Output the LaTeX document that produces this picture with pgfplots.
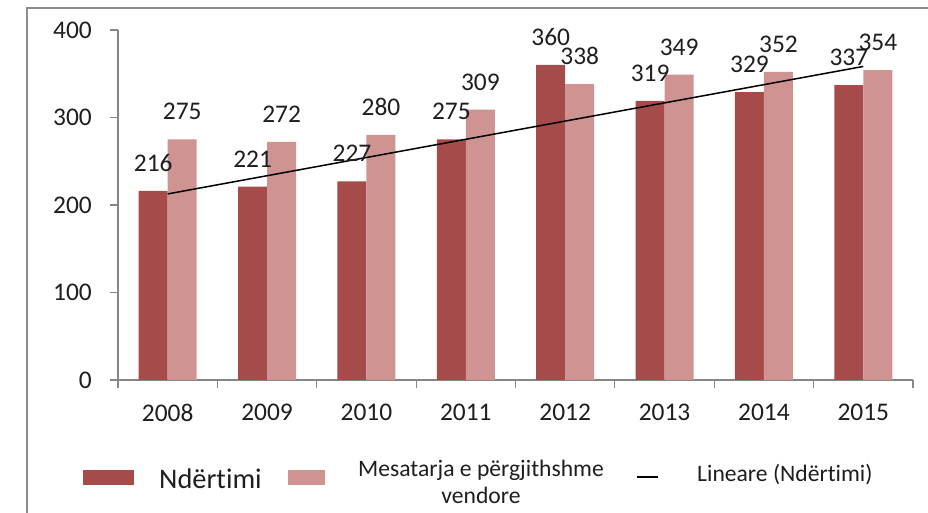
\documentclass[border=0pt]{standalone}
\usepackage{pgfplots}
\pgfplotsset{compat=1.18}
\usepackage{pgfplotstable}
\usepackage{fontspec}
\setmainfont{Carlito}[Ligatures=NoCommon]
\definecolor{darkbar}{HTML}{A54C4A}
\definecolor{lightbar}{HTML}{CF9392}
\definecolor{axgray}{HTML}{868686}
\definecolor{framegray}{HTML}{8C8C8C}
\definecolor{txt}{HTML}{1E1E1E}
\pgfplotstableread{
x nd mes
0 216 275
1 221 272
2 227 280
3 275 309
4 360 338
5 319 349
6 329 352
7 337 354
}\data
\begin{document}
\begin{tikzpicture}
\useasboundingbox (0bp,0bp) rectangle (928bp,513bp);
\draw[framegray, line width=2bp] (27bp,0bp) -- (27bp,505bp) -- (928bp,505bp);
\begin{axis}[
  at={(118bp,133bp)}, anchor=south west,
  scale only axis, width=795bp, height=350bp,
  xmin=-0.5, xmax=7.5, ymin=0, ymax=400,
  axis lines=left,
  axis line style={-, axgray, line width=1.5bp},
  ybar, bar width=29bp,
  xtick={0,...,7},
  xticklabels={2008,2009,2010,2011,2012,2013,2014,2015},
  minor xtick={-0.5,0.5,...,7.5},
  major x tick style={draw=none},
  ytick={0,100,...,400},
  tick align=outside,
  major tick length=8bp, minor tick length=8bp,
  tick style={axgray, line width=1.2bp},
  /pgf/number format/assume math mode=true,
  tick label style={font=\fontsize{25.5}{30}\selectfont, text=txt},
  yticklabel style={anchor=east, inner sep=0pt, xshift=-18bp},
  xticklabel style={anchor=north, inner sep=0pt, yshift=-16bp},
  every node near coord/.append style={anchor=base, inner sep=0pt, yshift=19.5bp, font=\fontsize{25.5}{30}\selectfont, text=txt},
  clip=false,
]
\addplot[fill=darkbar, draw=none, bar shift=-14.5bp, nodes near coords] table[x=x, y=nd] {\data};
\addplot[fill=lightbar, draw=none, bar shift=14.5bp, nodes near coords] table[x=x, y=mes] {\data};
\addplot[sharp plot, black, line width=1.5bp, mark=none] coordinates {(0,212.65) (7,358.35)};
\end{axis}
\fill[darkbar] (83bp,28bp) rectangle (134bp,43bp);
\node[anchor=base west, inner sep=0pt, font=\fontsize{28.5}{34}\selectfont, text=txt] at (159bp,25bp) {Ndërtimi};
\fill[lightbar] (288bp,28bp) rectangle (325bp,43bp);
\node[anchor=base, inner sep=0pt, font=\fontsize{23.7}{28}\selectfont, text=txt] at (481bp,37bp) {Mesatarja e përgjithshme};
\node[anchor=base, inner sep=0pt, font=\fontsize{23.7}{28}\selectfont, text=txt] at (481bp,10bp) {vendore};
\draw[black, line width=1.8bp] (637bp,36bp) -- (658bp,36bp);
\node[anchor=base west, inner sep=0pt, font=\fontsize{23.7}{28}\selectfont, text=txt] at (697bp,32bp) {Lineare (Ndërtimi)};
\end{tikzpicture}
\end{document}
